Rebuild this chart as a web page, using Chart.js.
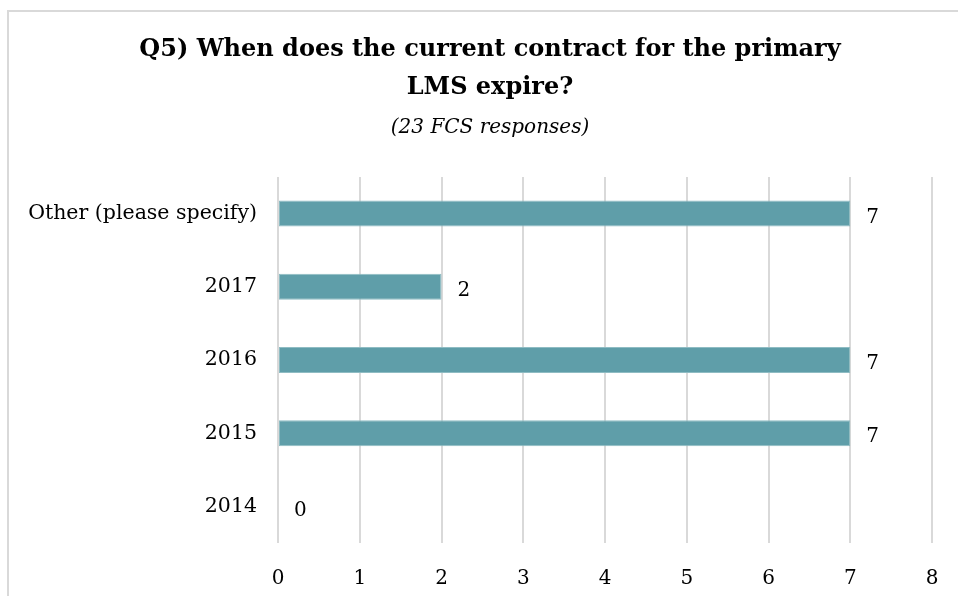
<!DOCTYPE html>
<html>
<head>
<meta charset="utf-8">
<script src="https://cdn.jsdelivr.net/npm/chart.js@4"></script>
<style>
html,body{margin:0;padding:0;background:#fff;}
#wrap{position:relative;width:958px;height:596px;}
</style>
</head>
<body>
<div id="wrap"><canvas id="c" width="958" height="596"></canvas></div>
<script>
const categories = ["Other (please specify)", "2017", "2016", "2015", "2014"];
const counts = [7, 2, 7, 7, 0];
const xTicks = [0, 1, 2, 3, 4, 5, 6, 7, 8];
const titleLines = ["Q5) When does the current contract for the primary", "LMS expire?"];
const subtitleText = "(23 FCS responses)";

const FONT = "'DejaVu Serif', Georgia, serif";

const frame = {
  id: 'frame',
  beforeDraw(chart) {
    const ctx = chart.ctx;
    ctx.save();
    ctx.fillStyle = '#fff';
    ctx.fillRect(0, 0, chart.width, chart.height);
    ctx.strokeStyle = '#d9d9d9';
    ctx.lineWidth = 2;
    ctx.beginPath();
    ctx.moveTo(8, chart.height + 2);
    ctx.lineTo(8, 11);
    ctx.lineTo(chart.width + 2, 11);
    ctx.stroke();
    ctx.restore();
  }
};

const headings = {
  id: 'headings',
  afterDraw(chart) {
    const ctx = chart.ctx;
    const cx = 490;
    ctx.save();
    ctx.fillStyle = '#000';
    ctx.textAlign = 'center';
    ctx.textBaseline = 'middle';
    ctx.font = "bold 24px " + FONT;
    titleLines.forEach((t, i) => ctx.fillText(t, cx, 50 + i * 38));
    ctx.font = "italic 20px " + FONT;
    ctx.fillText(subtitleText, cx, 128);
    ctx.restore();
  }
};

const valueLabels = {
  id: 'valueLabels',
  afterDatasetsDraw(chart) {
    const ctx = chart.ctx;
    const meta = chart.getDatasetMeta(0);
    ctx.save();
    ctx.font = "20px " + FONT;
    ctx.fillStyle = '#000';
    ctx.textAlign = 'left';
    ctx.textBaseline = 'middle';
    meta.data.forEach((bar, i) => {
      ctx.fillText(String(counts[i]), bar.x + 16, bar.y + 4);
    });
    ctx.restore();
  }
};

new Chart(document.getElementById('c'), {
  type: 'bar',
  data: {
    labels: categories,
    datasets: [{
      data: counts,
      backgroundColor: '#5f9ea9',
      borderColor: '#8fbcc3',
      borderWidth: 1,
      borderSkipped: false,
      categoryPercentage: 1,
      barPercentage: 0.355
    }]
  },
  options: {
    indexAxis: 'y',
    responsive: false,
    animation: false,
    layout: { padding: { left: 0, right: 26, top: 177, bottom: 0 } },
    plugins: {
      legend: { display: false },
      tooltip: { enabled: false },
      title: { display: false },
      subtitle: { display: false }
    },
    scales: {
      x: {
        min: 0,
        max: 8,
        afterBuildTicks(axis) { axis.ticks = xTicks.map(v => ({ value: v })); },
        afterFit(axis) { axis.height = 53; axis.paddingRight = 0; axis.paddingLeft = 0; },
        grid: { color: '#d9d9d9', lineWidth: 2, drawTicks: false },
        border: { display: false },
        ticks: { color: '#000', font: { family: FONT, size: 20 }, padding: 24, maxRotation: 0 }
      },
      y: {
        afterFit(axis) { axis.width = 278; },
        grid: { display: false },
        border: { display: false },
        ticks: { color: '#000', font: { family: FONT, size: 20.5 }, padding: 13 }
      }
    }
  },
  plugins: [frame, headings, valueLabels]
});
</script>
</body>
</html>
